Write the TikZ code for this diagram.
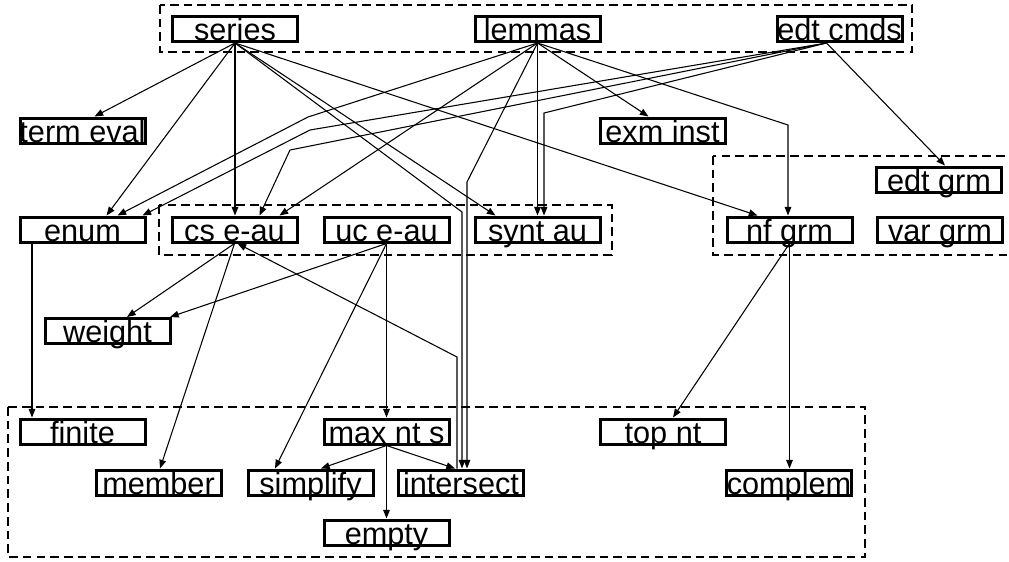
\documentclass[tikz,border=0pt]{standalone}
\usepackage{fontspec}
\setmainfont{Liberation Sans}
\usetikzlibrary{arrows.meta,calc}
\begin{document}
\begin{tikzpicture}[x=0.75pt,y=-0.75pt,
  box/.style={draw, line width=2.25pt, rectangle, inner sep=0pt,
    minimum width=93.75pt, minimum height=18.75pt,
    text height=17.75pt, text depth=0.5pt, font=\fontsize{23}{26}\selectfont},
  grp/.style={draw, line width=1.5pt, dash pattern=on 6.5pt off 3.8pt},
  arr/.style={-{Triangle[length=6.5pt,width=5pt]}, line width=0.8pt}]
\useasboundingbox (0,0) rectangle (1009,561);

% dashed groups
\draw[grp] (160,5) rectangle (912,52);
\draw[grp] (159,205) rectangle (612,255);
\draw[grp] (713,156) rectangle (1014,255);
\draw[grp] (8,407) rectangle (865,557);

% modules
\node[box] (series)    at (235,29)     {\makebox[0pt]{series}};
\node[box] (lemmas)    at (537.5,29)   {\makebox[0pt]{lemmas}};
\node[box] (edtcmds)   at (839.5,29)   {\makebox[0pt]{edt cmds}};
\node[box] (termeval)  at (82.5,130.5) {\makebox[0pt]{term eval}};
\node[box] (exminst)   at (662.5,130.5){\makebox[0pt]{exm inst}};
\node[box] (edtgrm)    at (939,179.5)  {\makebox[0pt]{edt grm}};
\node[box] (vargrm)    at (940,229.5)  {\makebox[0pt]{var grm}};
\node[box] (nfgrm)     at (789.5,229.5){\makebox[0pt]{nf grm}};
\node[box] (enum)      at (82.5,229.5) {\makebox[0pt]{enum}};
\node[box] (cseau)     at (234.5,229.5){\makebox[0pt]{cs e-au}};
\node[box] (uceau)     at (386.5,229.5){\makebox[0pt]{uc e-au}};
\node[box] (syntau)    at (537.5,229.5){\makebox[0pt]{synt au}};
\node[box] (weight)    at (107.5,331)  {\makebox[0pt]{weight}};
\node[box] (finite)    at (82.5,431.5) {\makebox[0pt]{finite}};
\node[box] (maxnts)    at (386.5,431.5){\makebox[0pt]{max nt s}};
\node[box] (topnt)     at (663,431.5)  {\makebox[0pt]{top nt}};
\node[box] (member)    at (158.5,482.5){\makebox[0pt]{member}};
\node[box] (simplify)  at (310.5,482.5){\makebox[0pt]{simplify}};
\node[box] (intersect) at (461,482.5)  {\makebox[0pt]{intersect}};
\node[box] (complem)   at (789,482.5)  {\makebox[0pt]{complem}};
\node[box] (empty)     at (386.5,532.5){\makebox[0pt]{empty}};

% bend points of routed edges
\coordinate (kSerInt) at (462,212);
\coordinate (kLemEnum) at (308,117);
\coordinate (kLemInt) at (467,182);
\coordinate (kLemNf) at (788,125);
\coordinate (kEdtEnum) at (310,130);
\coordinate (kEdtCs) at (290,150);
\coordinate (kEdtSyn) at (544,113);
\coordinate (kIntCs) at (457,357);
\coordinate (eOut) at ($(edtcmds.south)+(-13,0)$);

% series
\draw[arr] (series.south) -- ($(termeval.north)+(12,0)$);
\draw[arr] (series.south) -- ($(enum.north)+(24,0)$);
\draw[arr] (series.south) -- (series.south |- cseau.north);
\draw[arr] (series.south) -- (kSerInt) -- (kSerInt |- intersect.north);
\draw[arr] (series.south) -- ($(syntau.north)+(-42,0)$);
\draw[arr] (series.south) -- ($(nfgrm.north)+(-32,0)$);

% lemmas
\draw[arr] (lemmas.south) -- (kLemEnum) -- ($(enum.north)+(35,0)$);
\draw[arr] (lemmas.south) -- ($(cseau.north)+(45,0)$);
\draw[arr] (lemmas.south) -- (kLemInt) -- (kLemInt |- intersect.north);
\draw[arr] (lemmas.south) -- (syntau.north);
\draw[arr] (lemmas.south) -- ($(exminst.north)+(-14,0)$);
\draw[arr] (lemmas.south) -- (kLemNf) -- (kLemNf |- nfgrm.north);

% edt cmds
\draw[arr] (eOut) -- (kEdtEnum) -- ($(enum.north)+(60,0)$);
\draw[arr] (eOut) -- (kEdtCs) -- ($(cseau.north)+(25,0)$);
\draw[arr] (eOut) -- (kEdtSyn) -- (kEdtSyn |- syntau.north);
\draw[arr] (eOut) -- ($(edtgrm.north)+(6,0)$);

% cs e-au and uc e-au
\draw[arr] (cseau.south) -- ($(weight.north)+(19.5,0)$);
\draw[arr] (cseau.south) -- ($(member.north)+(1.5,0)$);
\draw[arr] (kIntCs |- intersect.north) -- (kIntCs) -- ($(cseau.south)+(3,0)$);
\draw[arr] (uceau.south) -- ($(weight.north)+(62.5,0)$);
\draw[arr] (uceau.south) -- (maxnts.north);
\draw[arr] (uceau.south) -- ($(simplify.north)+(-35.5,0)$);

% enum, nf grm
\draw[arr] ($(enum.south)+(-50.5,0)$) -- ($(finite.north)+(-50.5,0)$);
\draw[arr] (nfgrm.south) -- ($(topnt.north)+(10,0)$);
\draw[arr] (nfgrm.south) -- (nfgrm.south |- complem.north);

% max nt s
\draw[arr] (maxnts.south) -- ($(simplify.north)+(10.5,0)$);
\draw[arr] (maxnts.south) -- ($(intersect.north)+(-6,0)$);
\draw[arr] (maxnts.south) -- (empty.north);
\end{tikzpicture}
\end{document}
